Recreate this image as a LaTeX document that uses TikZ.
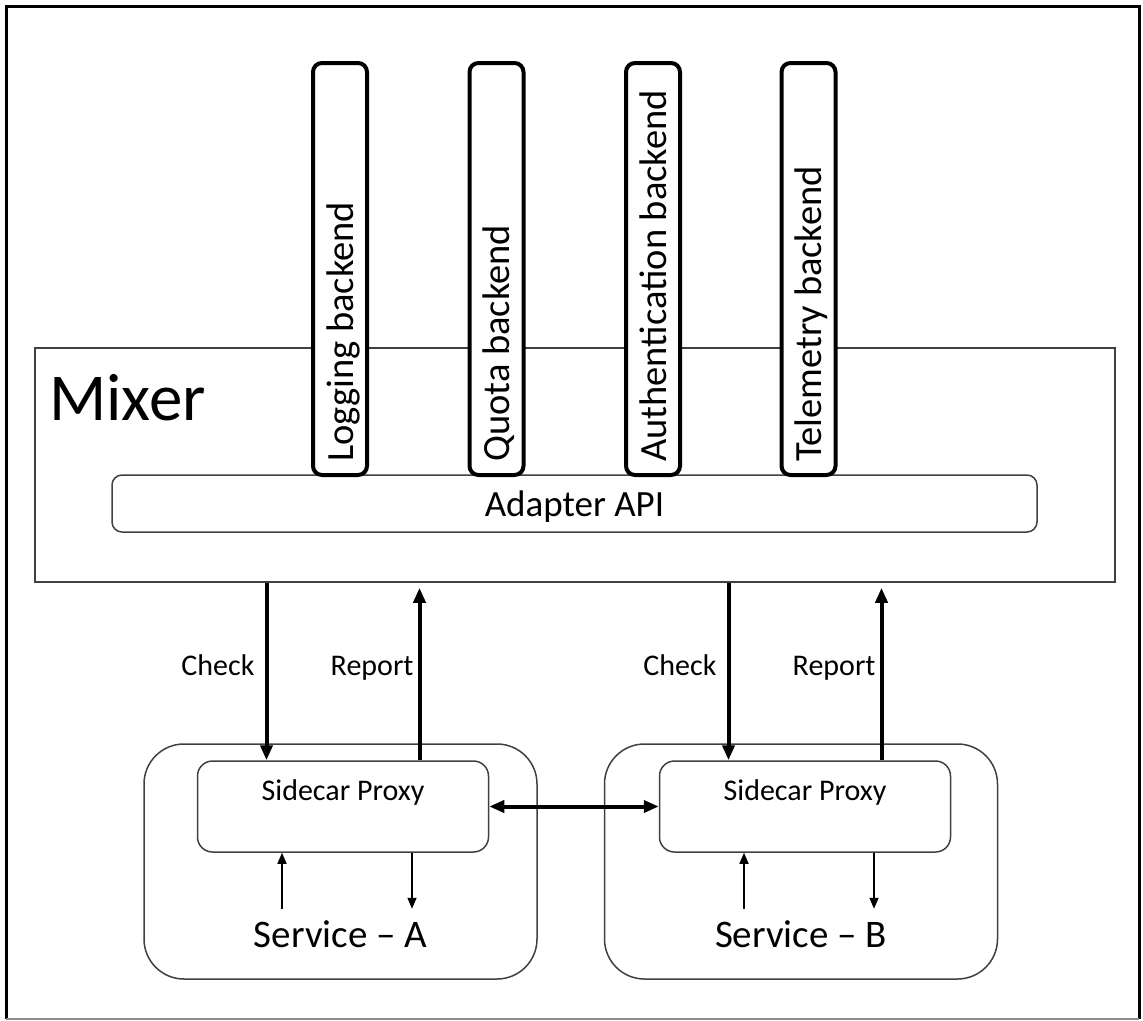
\documentclass[tikz,border=0pt]{standalone}
\usepackage{fontspec}
\setmainfont{Carlito}
\usetikzlibrary{arrows.meta}

\begin{document}
\begin{tikzpicture}[x=1pt,y=-1pt,
	box/.style={draw=black!75, line width=1.5pt},
	backend/.style={draw, fill=white, line width=4pt, rounded corners=9pt, minimum width=54pt, minimum height=412pt},
	blabel/.style={rotate=90, anchor=base west, inner sep=0pt, font=\fontsize{38.5}{40}\selectfont},
	small/.style={inner sep=0pt, anchor=base, font=\fontsize{30}{32}\selectfont},
	flow/.style={line width=4pt, >={Triangle[length=15pt,width=12pt]}},
	call/.style={line width=1.5pt, -{Triangle[length=11pt,width=9pt]}}]
\useasboundingbox (0,0) rectangle (1143,1020);
\draw[line width=3pt] (6,1019) -- (6,6) -- (1139,6) -- (1139,1019);
\draw[black!45, line width=1.5pt] (6,1019) -- (1139,1019);

% mixer
\node[box, minimum width=1080pt, minimum height=234pt] (mixer) at (575,465) {};
\node[inner sep=0pt, anchor=base west, font=\fontsize{67}{70}\selectfont] (mixer-txt) at (49,420) {Mixer};
\node[box, rounded corners=10pt, minimum width=925pt, minimum height=57pt, text depth=0pt,
	font=\fontsize{37}{40}\selectfont] (adapter) at (574.5,503.5) {Adapter API};
\foreach \nm/\x/\txt in {log/340/Logging, quota/496.5/Quota, auth/653/Authentication, tele/808.5/Telemetry}{
	\node[backend] (\nm) at (\x,269) {};
	\node[blabel] (\nm-txt) at (\x+13,462) {\txt\ backend};
}

% services
\foreach \s/\cx/\px in {A/340.5/343, B/801/805}{
	\node[box, rounded corners=40pt, minimum width=393pt, minimum height=235pt] (svc\s) at (\cx,861.5) {};
	\node[box, rounded corners=15pt, minimum width=291pt, minimum height=91pt] (side\s) at (\px,806.5) {};
	\node[small] (side\s-txt) at (\px,800) {Sidecar Proxy};
	\node[inner sep=0pt, anchor=base, font=\fontsize{39}{42}\selectfont] (svc\s-txt) at (\cx,947) {Service -- \s};
	\coordinate (chk\s) at ([xshift=-76.5pt]side\s.north);
	\coordinate (rep\s) at ([xshift=76.5pt]side\s.north);
	\coordinate (in\s) at ([xshift=-61pt,yshift=-56pt]side\s.south);
	\coordinate (out\s) at ([xshift=69pt,yshift=-56pt]side\s.south);
	\draw[flow, ->] (chk\s |- mixer.south) -- node[small, pos=0.525, anchor=base east, xshift=-10pt] (chk\s-txt) {Check} (chk\s);
	\draw[flow, ->, shorten >=5pt] (rep\s) -- node[small, pos=0.475, anchor=base east, xshift=-4pt] (rep\s-txt) {Report} (rep\s |- mixer.south);
	\draw[call] (in\s) -- (in\s |- side\s.south);
	\draw[call] (out\s |- side\s.south) -- (out\s);
}
\draw[flow, <->] (sideA.east) -- (sideB.west);
\end{tikzpicture}
\end{document}
